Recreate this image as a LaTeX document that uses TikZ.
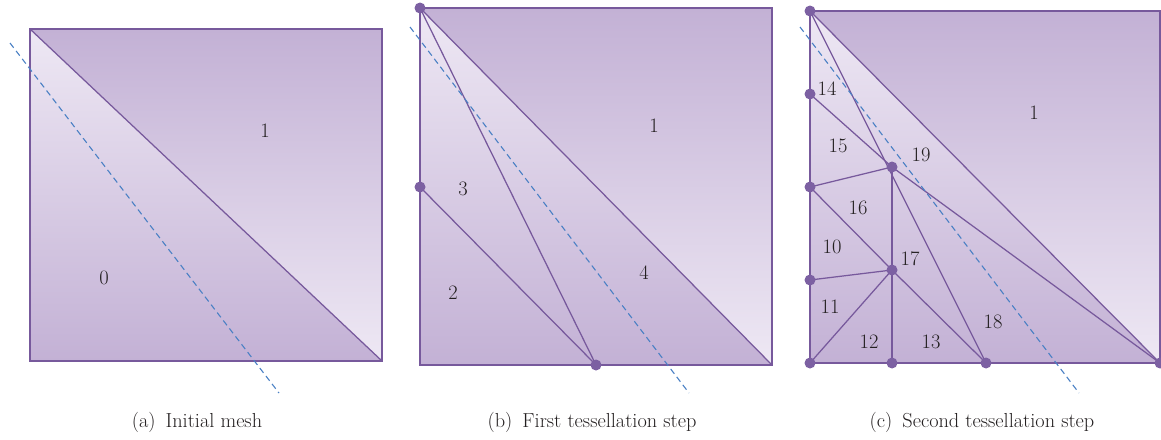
\documentclass[tikz,border=0pt]{standalone}
\usepackage{fontspec}
\definecolor{darkc}{HTML}{C3B1D5}
\definecolor{lightc}{HTML}{EEE8F4}
\definecolor{meshc}{HTML}{77599C}
\definecolor{dotc}{HTML}{7C60A2}
\definecolor{cutc}{HTML}{4A80C4}
\definecolor{textc}{HTML}{231F20}
\begin{document}
\begin{tikzpicture}[x=1pt,y=-1pt,
  meshline/.style={draw=meshc, line width=1.25pt},
  border/.style={draw=meshc, line width=1.7pt},
  vdot/.style={circle, fill=dotc, inner sep=0pt, minimum size=11pt},
  lbl/.style={font=\fontsize{20.5}{20.5}\selectfont, text=textc, inner sep=0pt},
  captext/.style={font=\fontsize{20.3}{20.3}\selectfont, text=textc, inner sep=0pt, anchor=base},
  cutline/.style={draw=cutc, dash pattern=on 6pt off 4pt, line width=1.1pt}]
\useasboundingbox (0,0) rectangle (1161,439);

% ---------- panel (a) ----------
\coordinate (aTL) at (30,29);
\coordinate (aTR) at (382,29);
\coordinate (aBR) at (382,361);
\coordinate (aBL) at (30,361);
\shade[top color=darkc, bottom color=lightc] (aTL) -- (aTR) -- (aBR) -- cycle;
\shade[top color=lightc, bottom color=darkc] (aTL) -- (aBR) -- (aBL) -- cycle;
\draw[meshline] (aTL) -- (aBR);
\draw[border] (aTL) rectangle (aBR);
\node[lbl] (a1) at (265,131) {1};
\node[lbl] (a0) at (104,278) {0};
\coordinate (acs) at (10,43);
\coordinate (ace) at (279,393);
\draw[cutline] (acs) -- (ace);
\node[captext] (capa) at (197,427) {(a)\enspace Initial mesh};

% ---------- panel (b) ----------
\coordinate (bTL) at (420,8);
\coordinate (bTR) at (772,8);
\coordinate (bBR) at (772,365);
\coordinate (bBL) at (420,365);
\coordinate (bL) at (420,187);
\coordinate (bB) at (596,365);
\shade[top color=darkc, bottom color=lightc] (bTL) -- (bTR) -- (bBR) -- cycle;
\shade[top color=lightc, bottom color=darkc] (bTL) -- (bBR) -- (bBL) -- cycle;
\draw[meshline] (bTL) -- (bBR);
\draw[meshline] (bTL) -- (bB);
\draw[meshline] (bL) -- (bB);
\draw[border] (bTL) rectangle (bBR);
\foreach \p in {bTL,bL,bB} \node[vdot] at (\p) {};
\node[lbl] (b1) at (654,126) {1};
\node[lbl] (b3) at (463,189) {3};
\node[lbl] (b4) at (644,273) {4};
\node[lbl] (b2) at (453,293) {2};
\coordinate (bcs) at (410,27);
\coordinate (bce) at (689,393);
\draw[cutline] (bcs) -- (bce);
\node[captext] (capb) at (592,427) {(b)\enspace First tessellation step};

% ---------- panel (c) ----------
\coordinate (cTL) at (810,11);
\coordinate (cTR) at (1160,11);
\coordinate (cBR) at (1160,363);
\coordinate (cBL) at (810,363);
\coordinate (cL1) at (810,94);
\coordinate (cL2) at (810,187);
\coordinate (cL3) at (810,280);
\coordinate (cB1) at (892,363);
\coordinate (cB2) at (986,363);
\coordinate (n19) at (892,167);
\coordinate (n17) at (892,270);
\shade[top color=darkc, bottom color=lightc] (cTL) -- (cTR) -- (cBR) -- cycle;
\shade[top color=lightc, bottom color=darkc] (cTL) -- (cBR) -- (cBL) -- cycle;
\draw[meshline] (cTL) -- (cBR);
\draw[meshline] (cTL) -- (cB2);
\draw[meshline] (cL1) -- (n19) -- (cBR);
\draw[meshline] (cL2) -- (n19);
\draw[meshline] (cL2) -- (n17);
\draw[meshline] (cL3) -- (n17);
\draw[meshline] (cBL) -- (n17);
\draw[meshline] (n19) -- (n17) -- (cB1);
\draw[meshline] (n17) -- (cB2);
\draw[border] (cTL) rectangle (cBR);
\foreach \p in {cTL,cL1,cL2,cL3,cBL,cB1,cB2,cBR,n19,n17} \node[vdot] at (\p) {};
\node[lbl] (c14) at (827,89) {14};
\node[lbl] (c15) at (838,146) {15};
\node[lbl] (c19) at (921,155) {19};
\node[lbl] (c16) at (858,208) {16};
\node[lbl] (c10) at (832,247) {10};
\node[lbl] (c17) at (910,259) {17};
\node[lbl] (c11) at (830,307) {11};
\node[lbl] (c18) at (993,322) {18};
\node[lbl] (c12) at (869,342) {12};
\node[lbl] (c13) at (931,342) {13};
\node[lbl] (c1) at (1034,113) {1};
\coordinate (ccs) at (800,27);
\coordinate (cce) at (1079,393);
\draw[cutline] (ccs) -- (cce);
\node[captext] (capc) at (982,427) {(c)\enspace Second tessellation step};
\end{tikzpicture}
\end{document}
